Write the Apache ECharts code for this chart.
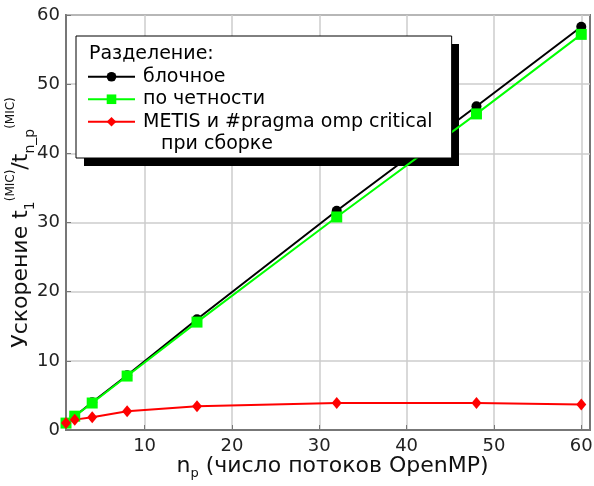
<!DOCTYPE html>
<html>
<head>
<meta charset="utf-8">
<script src="https://cdn.jsdelivr.net/npm/echarts@6/dist/echarts.min.js"></script>
<style>
  html, body { margin: 0; padding: 0; background: #fff; }
  #chart { width: 594px; height: 486px; }
</style>
</head>
<body>
<div id="chart"></div>
<script>
// число потоков
const threads = [1, 2, 4, 8, 16, 32, 48, 60];
// ускорение для разных разбиений
const blockSpeedup = [1, 2, 4, 7.9, 16.0, 31.7, 46.8, 58.3];
const paritySpeedup = [1, 2.0, 3.9, 7.8, 15.6, 30.8, 45.7, 57.2];
const metisSpeedup = [1, 1.5, 1.85, 2.7, 3.45, 3.9, 3.9, 3.7];
const xTicks = [10, 20, 30, 40, 50, 60];

const names = ['блочное', 'по четности', 'METIS и #pragma omp critical', '   при сборке'];

const pairs = (ys) => threads.map((x, i) => [x, ys[i]]);

const font = 'DejaVu Sans';
const chart = echarts.init(document.getElementById('chart'));

const option = {
    animation: false,
    textStyle: { fontFamily: font },
    title: {
        text: 'Разделение:',
        left: 89,
        top: 45,
        z: 10,
        padding: 0,
        textStyle: { fontFamily: font, fontSize: 19, fontWeight: 'normal', color: '#000' }
    },
    // тень под легендой
    graphic: [{
        type: 'rect',
        left: 84,
        top: 44,
        z: 3,
        shape: { width: 375, height: 122 },
        style: { fill: '#000' }
    }],
    legend: {
        orient: 'vertical',
        left: 76,
        top: 36,
        padding: [29.5, 19, 2.5, 11],
        itemWidth: 47,
        itemHeight: 12,
        itemGap: 0,
        backgroundColor: '#fff',
        borderColor: '#000',
        borderWidth: 1,
        borderRadius: 0,
        selectedMode: false,
        textStyle: { fontFamily: font, fontSize: 19, color: '#000', lineHeight: 22.5, padding: [0, 0, 0, 3] },
        data: [
            { name: names[0] },
            { name: names[1] },
            { name: names[2] },
            { name: names[3], icon: 'none' }
        ]
    },
    grid: {
        left: 66, right: 4, top: 15, bottom: 56,
        containLabel: false,
        outerBoundsMode: 'none',
        show: true,
        borderColor: '#777',
        borderWidth: 2
    },
    xAxis: {
        type: 'value',
        min: 1,
        max: 61,
        name: '{a|n}{sub|p}{a| (число потоков OpenMP)}',
        nameLocation: 'middle',
        nameGap: 22,
        nameMoveOverlap: false,
        nameTextStyle: {
            padding: [0, 0, 0, 9],
            rich: {
                a: { fontFamily: font, fontSize: 22, color: '#111', lineHeight: 28 },
                sub: { fontFamily: font, fontSize: 13, color: '#111', lineHeight: 18, verticalAlign: 'bottom' }
            }
        },
        axisLine: { lineStyle: { color: '#777', width: 2 } },
        axisTick: { inside: true, length: 5, customValues: xTicks, lineStyle: { color: '#777' } },
        axisLabel: { customValues: xTicks, margin: 7, fontSize: 18, color: '#222', fontFamily: font },
        splitLine: { show: true, lineStyle: { color: '#ccc', width: 1.5 } }
    },
    yAxis: {
        type: 'value',
        min: 0,
        max: 60,
        interval: 10,
        name: '{a|Ускорение t}{sub|1}{sup|(MIC)}{a|/t}{sub|n_p}{sup|(MIC)}',
        nameLocation: 'middle',
        nameGap: 29,
        nameMoveOverlap: false,
        nameTextStyle: {
            rich: {
                a: { fontFamily: font, fontSize: 22, color: '#111', lineHeight: 32 },
                sub: { fontFamily: font, fontSize: 14, color: '#111', lineHeight: 22, verticalAlign: 'bottom' },
                sup: { fontFamily: font, fontSize: 12, color: '#111', lineHeight: 29, verticalAlign: 'top' }
            }
        },
        axisLine: { show: true, lineStyle: { color: '#777', width: 2 } },
        axisTick: { show: true, inside: true, length: 5, lineStyle: { color: '#777' } },
        axisLabel: { margin: 6, fontSize: 18, color: '#222', fontFamily: font },
        splitLine: { show: true, lineStyle: { color: '#ccc', width: 1.5 } }
    },
    series: [
        {
            name: names[0],
            type: 'line',
            data: pairs(blockSpeedup),
            symbol: 'circle',
            symbolSize: 10,
            itemStyle: { color: '#000' },
            lineStyle: { color: '#000', width: 2 }
        },
        {
            name: names[1],
            type: 'line',
            data: pairs(paritySpeedup),
            symbol: 'rect',
            symbolSize: 11,
            itemStyle: { color: '#00ff00' },
            lineStyle: { color: '#00ff00', width: 2 }
        },
        {
            name: names[2],
            type: 'line',
            data: pairs(metisSpeedup),
            symbol: 'diamond',
            symbolSize: [10, 12],
            itemStyle: { color: '#ff0000' },
            lineStyle: { color: '#ff0000', width: 2 }
        },
        {
            // вторая строка подписи легенды
            name: names[3],
            type: 'line',
            data: []
        }
    ]
};

chart.setOption(option);
</script>
</body>
</html>
